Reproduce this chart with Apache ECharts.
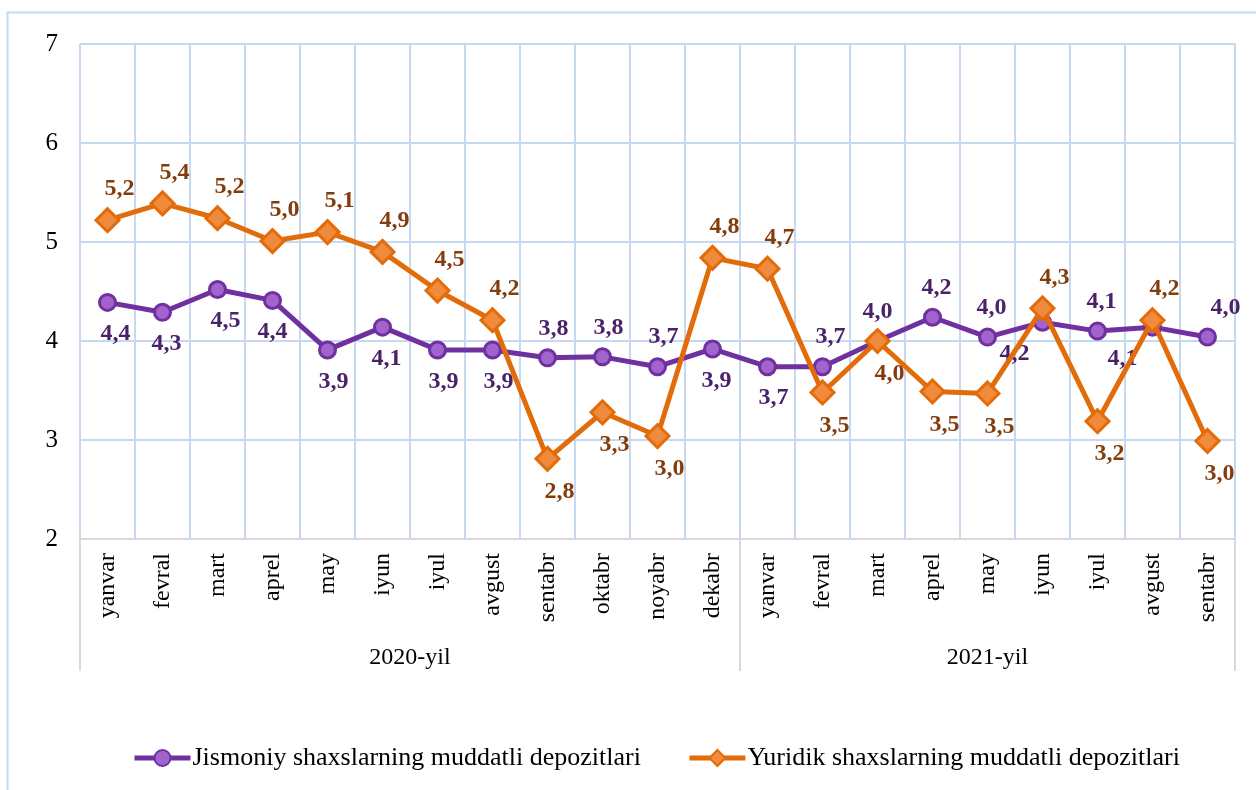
<!DOCTYPE html>
<html>
<head>
<meta charset="utf-8">
<script src="https://cdn.jsdelivr.net/npm/echarts@6/dist/echarts.min.js"></script>
<style>
  html, body { margin: 0; padding: 0; background: #fff; }
  #main { width: 1256px; height: 790px; }
</style>
</head>
<body>
<div id="main"></div>
<script>
var months = ["yanvar", "fevral", "mart", "aprel", "may", "iyun", "iyul", "avgust", "sentabr", "oktabr", "noyabr", "dekabr",
    "yanvar", "fevral", "mart", "aprel", "may", "iyun", "iyul", "avgust", "sentabr"];
var years = ["2020-yil", "2021-yil"];
var jismoniy = [4.39, 4.29, 4.52, 4.41, 3.91, 4.14, 3.91, 3.91, 3.83, 3.84, 3.74, 3.92,
    3.74, 3.74, 4.0, 4.24, 4.04, 4.19, 4.10, 4.14, 4.04];
var yuridik = [5.22, 5.39, 5.24, 5.01, 5.10, 4.90, 4.51, 4.21, 2.81, 3.28, 3.04, 4.84,
    4.73, 3.48, 4.0, 3.49, 3.47, 4.33, 3.19, 4.21, 2.99];

// label placement (t = above, b = below) and horizontal nudges
var jisPos = "bbbbbbbbtttbbttttbtbt";
var yurPos = "ttttttttbbbttbbbbtbtb";
var jisDx = [8, 4, 8, 0, 6, 4, 6, 6, 6, 6, 6, 4, 6, 8, 0, 4, 4, -28, 4, -30, 18];

var serif = "'Liberation Serif', 'Times New Roman', serif";

function fmt(v) {
    return (Math.round(v * 10) / 10).toFixed(1).replace(".", ",");
}

function mk(vals, pos, dx) {
    return vals.map(function (v, i) {
        var up = pos[i] === "t";
        return {
            value: v,
            label: {
                position: up ? "top" : "bottom",
                offset: [typeof dx === "number" ? dx : dx[i], up ? 0 : 2]
            }
        };
    });
}

var lblBase = {
    show: true,
    fontFamily: serif,
    fontWeight: "bold",
    fontSize: 24,
    formatter: function (p) { return fmt(p.value); }
};

var option = {
    animation: false,
    backgroundColor: "#fff",
    graphic: [{
        type: "polyline",
        shape: { points: [[7.5, 800], [7.5, 12.5], [1260, 12.5]] },
        style: { stroke: "#c5d9f1", lineWidth: 2, fill: null },
        silent: true
    }],
    grid: { left: 80, right: 21, top: 44, bottom: 251 },
    legend: {
        bottom: 14,
        left: 127,
        itemWidth: 56,
        itemHeight: 20,
        itemGap: 46,
        textStyle: { fontFamily: serif, fontSize: 26, color: "#000", padding: [0, 0, 0, -3] },
        data: [
            { name: "Jismoniy shaxslarning muddatli depozitlari", lineStyle: { width: 5 } },
            { name: "Yuridik shaxslarning muddatli depozitlari", lineStyle: { width: 5 } }
        ]
    },
    xAxis: [{
        type: "category",
        data: months,
        boundaryGap: true,
        axisLine: { lineStyle: { color: "#d9d9d9", width: 2 } },
        axisTick: { show: false },
        axisLabel: {
            interval: 0,
            rotate: 90,
            margin: 14,
            fontFamily: serif,
            fontSize: 24,
            color: "#000"
        },
        splitLine: { show: true, interval: 0, lineStyle: { color: "#c5d9f1", width: 2 } }
    }, {
        type: "value",
        position: "bottom",
        min: 0,
        max: months.length,
        axisLine: { show: false },
        axisTick: {
            show: true,
            customValues: [0, 12, 21],
            length: 132,
            lineStyle: { color: "#d9d9d9", width: 2 }
        },
        axisLabel: {
            customValues: [6, 16.5],
            margin: 107,
            fontFamily: serif,
            fontSize: 24,
            color: "#000",
            formatter: function (v) { return v < 12 ? years[0] : years[1]; }
        },
        splitLine: { show: false }
    }],
    yAxis: {
        type: "value",
        min: 2,
        max: 7,
        interval: 1,
        axisLine: { show: false },
        axisTick: { show: false },
        axisLabel: { margin: 22, fontFamily: serif, fontSize: 25, color: "#000" },
        splitLine: { lineStyle: { color: "#c5d9f1", width: 2 } }
    },
    series: [{
        name: "Jismoniy shaxslarning muddatli depozitlari",
        type: "line",
        xAxisIndex: 0,
        data: mk(jismoniy, jisPos, jisDx),
        symbol: "circle",
        symbolSize: 16,
        lineStyle: { color: "#7030a0", width: 5 },
        itemStyle: { color: "#a064cc", borderColor: "#7030a0", borderWidth: 3 },
        label: Object.assign({ color: "#4a2268", distance: 8 }, lblBase),
        z: 3
    }, {
        name: "Yuridik shaxslarning muddatli depozitlari",
        type: "line",
        xAxisIndex: 0,
        data: mk(yuridik, yurPos, 12),
        symbol: "diamond",
        symbolSize: 23,
        lineStyle: { color: "#e36c0a", width: 5 },
        itemStyle: { color: "#f08a3c", borderColor: "#e36c0a", borderWidth: 3 },
        label: Object.assign({ color: "#843c0c", distance: 6 }, lblBase),
        z: 4
    }]
};

echarts.init(document.getElementById("main")).setOption(option);
</script>
</body>
</html>
